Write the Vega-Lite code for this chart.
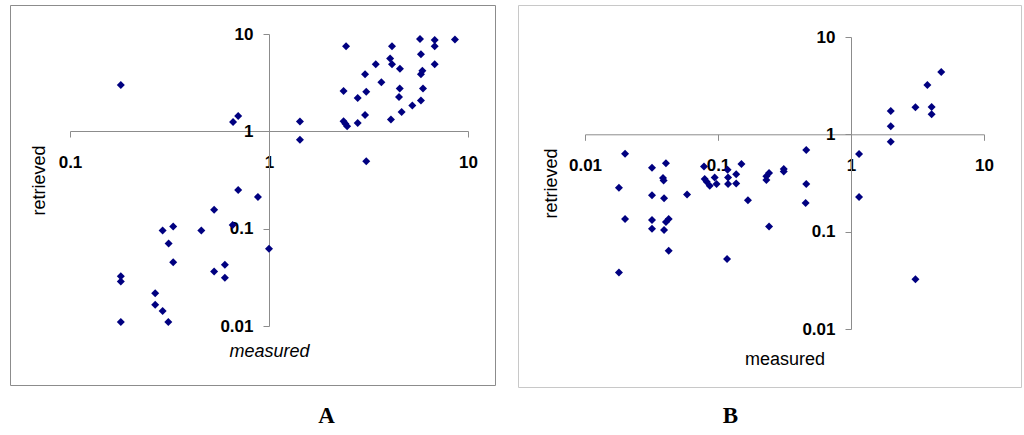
{
  "$schema": "https://vega.github.io/schema/vega-lite/v6.json",
  "padding": {"left": 9, "top": 4, "right": 0, "bottom": 0},
  "autosize": {"type": "pad"},
  "spacing": 21,
  "background": "white",
  "config": {
    "font": "Liberation Sans",
    "axis": {
      "grid": false,
      "domainColor": "#8c8c8c",
      "tickColor": "#8c8c8c",
      "tickSize": 6,
      "labelFont": "Liberation Sans",
      "labelFontSize": 17,
      "labelFontWeight": "bold",
      "labelColor": "#000000",
      "labelFlush": false,
      "labelOverlap": false,
      "labelBound": false,
      "titleFont": "Liberation Sans",
      "titleFontSize": 18,
      "titleFontWeight": "normal",
      "titleColor": "#000000"
    },
    "axisX": {"labelPadding": 17},
    "axisY": {"labelPadding": 10}
  },
  "datasets": {
    "A": [
      {"m": 0.18, "r": 3.0}, {"m": 0.66, "r": 1.25}, {"m": 0.70, "r": 1.44},
      {"m": 2.44, "r": 7.5}, {"m": 4.15, "r": 7.5}, {"m": 5.74, "r": 8.9}, {"m": 6.8, "r": 8.7},
      {"m": 6.8, "r": 7.5}, {"m": 8.6, "r": 8.8}, {"m": 5.8, "r": 6.2}, {"m": 4.06, "r": 5.6},
      {"m": 4.15, "r": 4.9}, {"m": 3.44, "r": 4.9}, {"m": 4.55, "r": 4.4}, {"m": 6.8, "r": 4.9},
      {"m": 5.9, "r": 4.2}, {"m": 5.8, "r": 3.85}, {"m": 3.04, "r": 3.85}, {"m": 3.67, "r": 3.2},
      {"m": 2.37, "r": 2.6}, {"m": 3.08, "r": 2.55}, {"m": 2.79, "r": 2.2}, {"m": 4.54, "r": 2.75},
      {"m": 4.5, "r": 2.25}, {"m": 5.94, "r": 2.75}, {"m": 5.8, "r": 2.07}, {"m": 5.25, "r": 1.84},
      {"m": 4.64, "r": 1.58}, {"m": 4.1, "r": 1.32}, {"m": 3.04, "r": 1.47}, {"m": 2.79, "r": 1.22},
      {"m": 2.37, "r": 1.27}, {"m": 2.47, "r": 1.13}, {"m": 2.42, "r": 1.2}, {"m": 1.43, "r": 1.26},
      {"m": 1.43, "r": 0.82}, {"m": 3.08, "r": 0.494},
      {"m": 0.70, "r": 0.25}, {"m": 0.88, "r": 0.212}, {"m": 0.53, "r": 0.156}, {"m": 0.33, "r": 0.105},
      {"m": 0.292, "r": 0.096}, {"m": 0.457, "r": 0.096}, {"m": 0.657, "r": 0.109}, {"m": 0.313, "r": 0.0705},
      {"m": 1.0, "r": 0.062}, {"m": 0.33, "r": 0.0453}, {"m": 0.60, "r": 0.0425}, {"m": 0.53, "r": 0.0363},
      {"m": 0.60, "r": 0.0313}, {"m": 0.18, "r": 0.0325}, {"m": 0.18, "r": 0.0286}, {"m": 0.268, "r": 0.0217},
      {"m": 0.268, "r": 0.0165}, {"m": 0.292, "r": 0.0143}, {"m": 0.18, "r": 0.011}, {"m": 0.312, "r": 0.011}
    ],
    "B": [
      {"m": 0.02, "r": 0.631}, {"m": 0.018, "r": 0.283}, {"m": 0.02, "r": 0.135}, {"m": 0.018, "r": 0.038},
      {"m": 0.0319, "r": 0.453}, {"m": 0.0406, "r": 0.506}, {"m": 0.0386, "r": 0.355}, {"m": 0.039, "r": 0.335},
      {"m": 0.0319, "r": 0.236}, {"m": 0.0393, "r": 0.22}, {"m": 0.0585, "r": 0.241}, {"m": 0.0319, "r": 0.132},
      {"m": 0.0319, "r": 0.107}, {"m": 0.0426, "r": 0.135}, {"m": 0.0406, "r": 0.126}, {"m": 0.0393, "r": 0.104},
      {"m": 0.0426, "r": 0.0638},
      {"m": 0.0785, "r": 0.468}, {"m": 0.0794, "r": 0.347}, {"m": 0.0822, "r": 0.326}, {"m": 0.0867, "r": 0.296},
      {"m": 0.0944, "r": 0.36}, {"m": 0.0975, "r": 0.308}, {"m": 0.118, "r": 0.432}, {"m": 0.119, "r": 0.36},
      {"m": 0.119, "r": 0.308}, {"m": 0.137, "r": 0.39}, {"m": 0.137, "r": 0.313}, {"m": 0.15, "r": 0.495},
      {"m": 0.168, "r": 0.21}, {"m": 0.117, "r": 0.0525},
      {"m": 0.242, "r": 0.113}, {"m": 0.242, "r": 0.40}, {"m": 0.231, "r": 0.34}, {"m": 0.231, "r": 0.37},
      {"m": 0.312, "r": 0.44}, {"m": 0.312, "r": 0.416},
      {"m": 0.461, "r": 0.689}, {"m": 0.461, "r": 0.308}, {"m": 0.456, "r": 0.197},
      {"m": 1.15, "r": 0.627}, {"m": 1.15, "r": 0.227},
      {"m": 1.99, "r": 1.74}, {"m": 1.99, "r": 1.21}, {"m": 1.99, "r": 0.838}, {"m": 3.05, "r": 1.9},
      {"m": 4.04, "r": 1.91}, {"m": 4.04, "r": 1.61}, {"m": 3.75, "r": 3.22}, {"m": 4.77, "r": 4.38},
      {"m": 3.05, "r": 0.0324}
    ]
  },
  "hconcat": [
    {
      "width": 485,
      "height": 380,
      "view": {"stroke": "#8c8c8c", "strokeWidth": 1, "fill": "white"},
      "title": {"text": "A", "orient": "bottom", "anchor": "middle", "font": "Liberation Serif", "fontSize": 23, "fontWeight": "bold", "color": "#000000", "dx": 74, "offset": 20},
      "data": {"name": "A"},
      "mark": {"type": "point", "shape": "diamond", "filled": true, "size": 64, "color": "#000080", "opacity": 1},
      "encoding": {
        "x": {
          "field": "m", "type": "quantitative",
          "scale": {"type": "log", "domain": [0.1, 10], "range": [60, 458], "nice": false},
          "axis": {"title": "measured", "offset": -254, "values": [0.1, 1, 10], "format": "~g", "titleFontStyle": "italic", "titleY": 225, "titleBaseline": "alphabetic"}
        },
        "y": {
          "field": "r", "type": "quantitative",
          "scale": {"type": "log", "domain": [0.01, 10], "range": [321, 29], "nice": false},
          "axis": {"title": "retrieved", "offset": -259, "values": [0.01, 0.1, 1, 10], "format": "~g", "titleX": -225, "titleBaseline": "alphabetic"}
        }
      }
    },
    {
      "width": 503,
      "height": 382,
      "view": {"stroke": "#c8c8c8", "strokeWidth": 1, "fill": "white"},
      "title": {"text": "B", "orient": "bottom", "anchor": "middle", "font": "Liberation Serif", "fontSize": 23, "fontWeight": "bold", "color": "#000000", "dx": -39, "offset": 18},
      "data": {"name": "B"},
      "mark": {"type": "point", "shape": "diamond", "filled": true, "size": 64, "color": "#000080", "opacity": 1},
      "encoding": {
        "x": {
          "field": "m", "type": "quantitative",
          "scale": {"type": "log", "domain": [0.01, 10], "range": [67, 466], "nice": false},
          "axis": {"title": "measured", "offset": -252.7, "values": [0.01, 0.1, 1, 10], "format": "~g", "titleY": 230, "titleBaseline": "alphabetic"}
        },
        "y": {
          "field": "r", "type": "quantitative",
          "scale": {"type": "log", "domain": [0.01, 10], "range": [324, 32], "nice": false},
          "axis": {"title": "retrieved", "offset": -333, "values": [0.01, 0.1, 1, 10], "format": "~g", "titleX": -295, "titleBaseline": "alphabetic"}
        }
      }
    }
  ]
}
